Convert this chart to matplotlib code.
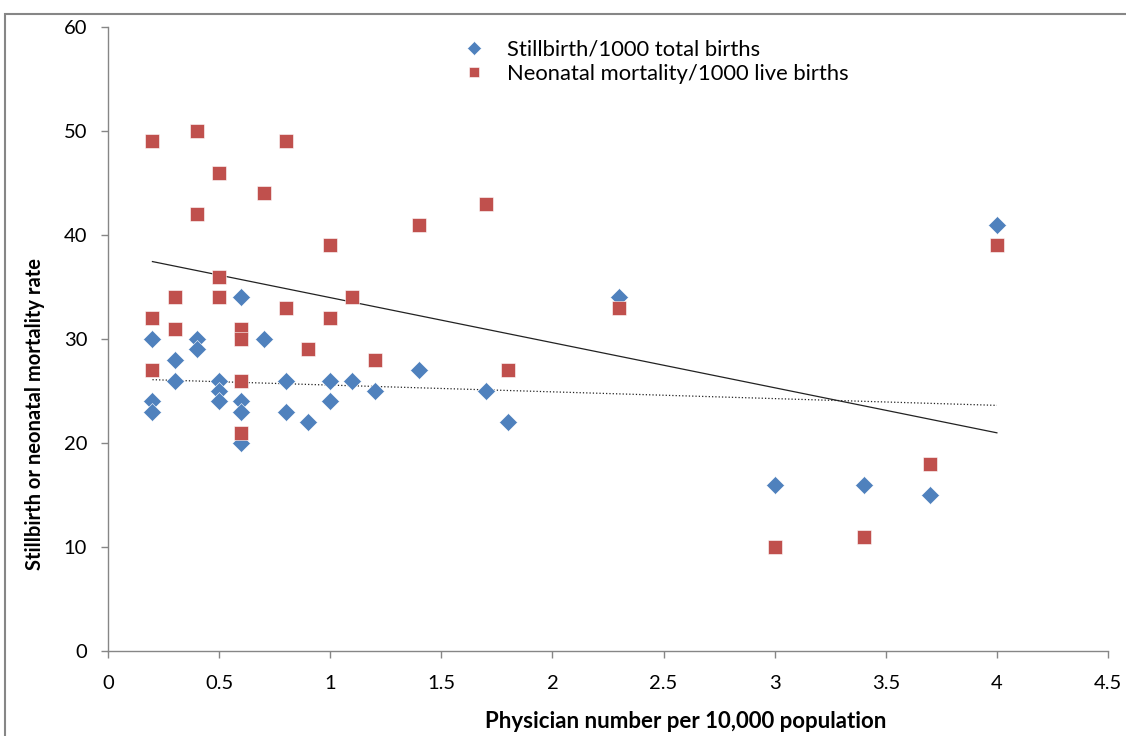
import numpy as np
import matplotlib
matplotlib.use("Agg")
import matplotlib.pyplot as plt
from matplotlib.patches import Rectangle

# Dados
fisicos = [0.2, 0.2, 0.2, 0.3, 0.3, 0.4, 0.4, 0.5, 0.5, 0.5,
           0.6, 0.6, 0.6, 0.6, 0.7, 0.8, 0.8, 0.9, 1.0, 1.0,
           1.1, 1.2, 1.4, 1.7, 1.8, 2.3, 3.0, 3.4, 3.7, 4.0]
natimortos = [30, 24, 23, 28, 26, 30, 29, 26, 25, 24,
              34, 24, 23, 20, 30, 26, 23, 22, 26, 24,
              26, 25, 27, 25, 22, 34, 16, 16, 15, 41]
neonatal = [49, 32, 27, 34, 31, 50, 42, 46, 36, 34,
            31, 30, 26, 21, 44, 49, 33, 29, 39, 32,
            34, 28, 41, 43, 27, 33, 10, 11, 18, 39]

rotulo_nati = "Stillbirth/1000 total births"
rotulo_neo = "Neonatal mortality/1000 live births"
x_ticks = [0, 0.5, 1, 1.5, 2, 2.5, 3, 3.5, 4, 4.5]
y_ticks = [0, 10, 20, 30, 40, 50, 60]

AZUL = "#4F81BD"
VERMELHO = "#C0504D"
CINZA = "#868686"

plt.rcParams["font.family"] = ["Lato", "DejaVu Sans"]

fig = plt.figure(figsize=(11.26, 7.36), dpi=100)
ax = fig.add_axes([108 / 1126, 1 - 651 / 736, 1000 / 1126, 624 / 736])

# moldura externa do gráfico
fig.patches.append(Rectangle((5 / 1126, -0.2), 1.2, 0.2 + 1 - 14 / 736,
                             transform=fig.transFigure, fill=False,
                             edgecolor=CINZA, lw=1.5))

ax.plot(fisicos, natimortos, "D", color=AZUL, ms=9, mec="white", mew=0.4,
        label=rotulo_nati, zorder=3)
ax.plot(fisicos, neonatal, "s", color=VERMELHO, ms=10.5, mec="white", mew=0.4,
        label=rotulo_neo, zorder=3)

# linhas de tendência (mínimos quadrados)
xs = np.array([min(fisicos), max(fisicos)])
a, b = np.polyfit(fisicos, neonatal, 1)
ax.plot(xs, a * xs + b, "-", color="#222222", lw=0.9, zorder=2)
a, b = np.polyfit(fisicos, natimortos, 1)
ax.plot(xs, a * xs + b, ":", color="#222222", lw=0.9, zorder=2)

ax.set_xlim(0, 4.5)
ax.set_ylim(0, 60)
ax.set_xticks(x_ticks)
ax.set_xticklabels([f"{v:g}" for v in x_ticks])
ax.set_yticks(y_ticks)
for lado in ["top", "right"]:
    ax.spines[lado].set_visible(False)
for lado in ["left", "bottom"]:
    ax.spines[lado].set_color(CINZA)
    ax.spines[lado].set_linewidth(1.0)
ax.tick_params(axis="both", colors=CINZA, labelcolor="black", labelsize=14.5,
               direction="out", length=5, width=1.0)
ax.tick_params(axis="x", pad=12)
ax.tick_params(axis="y", pad=10)

leg = ax.legend(loc="upper left", bbox_to_anchor=(0.335, 1.012), frameon=False,
                fontsize=15.8, handletextpad=1.0, labelspacing=0.22,
                handlelength=1.0, markerscale=0.75)

fig.text(35 / 1126, 1 - 414 / 736, "Stillbirth or neonatal mortality rate",
         rotation=90, ha="center", va="center", fontsize=14.5, fontweight="bold")
fig.text(686 / 1126, 1 - 722 / 736, "Physician number per 10,000 population",
         ha="center", va="center", fontsize=16, fontweight="bold")

fig.savefig("out.png", dpi=100)
